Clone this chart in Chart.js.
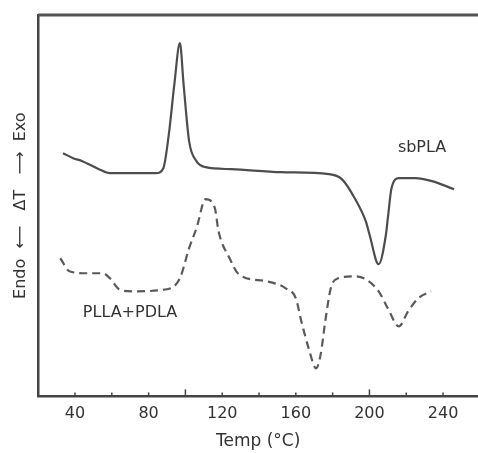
<!DOCTYPE html>
<html>
<head>
<meta charset="utf-8">
<script src="https://cdn.jsdelivr.net/npm/chart.js@4.4.0/dist/chart.umd.min.js"></script>
<style>
  html, body { margin: 0; padding: 0; background: #fff; }
  #wrap { width: 478px; height: 453px; }
</style>
</head>
<body>
<div id="wrap"><canvas id="dsc-chart"></canvas></div>
<script>
// DSC traces, heat flow in arbitrary units
var sbTemp = [33.5, 39, 44, 53, 59, 71, 84, 88, 91, 94, 97, 99, 102, 106, 111, 125, 152, 178, 185, 192, 198, 200, 205, 209, 210, 212, 216, 225, 234, 246];
var sbHeat = [24.3, 23.8, 23.5, 22.7, 22.3, 22.3, 22.3, 22.8, 26.2, 31.2, 35.3, 31.2, 25.5, 23.5, 22.9, 22.7, 22.4, 22.2, 21.7, 19.8, 17.5, 16.2, 13.2, 16.2, 17.8, 20.8, 21.8, 21.8, 21.5, 20.7];

var blendTemp = [32, 37, 46.5, 55, 59, 64, 71, 90, 97, 102, 106, 111, 116, 118, 124, 129, 144, 154.5, 160, 163, 167, 171, 173.5, 176, 179, 183, 192, 198, 205, 210, 216, 221, 226.5, 233.5];
var blendHeat = [13.8, 12.5, 12.3, 12.3, 11.8, 10.7, 10.5, 10.7, 11.8, 14.8, 16.8, 19.7, 18.8, 16.5, 13.8, 12.2, 11.5, 10.8, 9.8, 7.5, 4.8, 2.8, 4.2, 7.5, 10.8, 11.8, 12.0, 11.7, 10.5, 8.8, 7.0, 8.5, 9.8, 10.5];

var seriesNames = ["sbPLA", "PLLA+PDLA"];
var labelTicks = [40, 80, 120, 160, 200, 240];
var majorTicks = [100, 200];

function pairs(xs, ys) {
  return xs.map(function (x, i) { return { x: x, y: ys[i] }; });
}

// inward tick marks on the temperature axis + frame top + curve names
var decor = {
  id: 'decor',
  afterDraw: function (chart) {
    var ctx = chart.ctx, area = chart.chartArea, xs = chart.scales.x, ys = chart.scales.y;
    ctx.save();
    ctx.strokeStyle = '#444';
    ctx.lineWidth = 1.5;
    xs.ticks.forEach(function (t) {
      var px = xs.getPixelForValue(t.value);
      if (px <= area.left + 2 || px >= area.right - 2) return;
      var len = majorTicks.indexOf(t.value) >= 0 ? 7 : 4;
      ctx.beginPath();
      ctx.moveTo(px, area.bottom);
      ctx.lineTo(px, area.bottom - len);
      ctx.stroke();
    });
    ctx.strokeStyle = '#555';
    ctx.lineWidth = 3;
    ctx.beginPath();
    ctx.moveTo(area.left, area.top);
    ctx.lineTo(area.right, area.top);
    ctx.stroke();

    ctx.fillStyle = '#333';
    ctx.font = '16px "DejaVu Sans"';
    ctx.textAlign = 'center';
    ctx.textBaseline = 'middle';
    ctx.fillText(seriesNames[0], xs.getPixelForValue(228.6), ys.getPixelForValue(24.8));
    ctx.fillText(seriesNames[1], xs.getPixelForValue(69.9), ys.getPixelForValue(8.3));
    ctx.restore();
  }
};

new Chart(document.getElementById("dsc-chart"), {
  type: 'line',
  data: {
    datasets: [
      {
        label: seriesNames[0],
        data: pairs(sbTemp, sbHeat),
        borderColor: '#4d4d4d',
        borderWidth: 2.2,
        pointRadius: 0,
        cubicInterpolationMode: 'monotone'
      },
      {
        label: seriesNames[1],
        data: pairs(blendTemp, blendHeat),
        borderColor: '#5a5a5a',
        borderWidth: 2.2,
        borderDash: [8, 5],
        pointRadius: 0,
        cubicInterpolationMode: 'monotone'
      }
    ]
  },
  options: {
    responsive: true,
    maintainAspectRatio: false,
    animation: false,
    layout: { padding: { left: 11, top: 15, right: 0, bottom: 1 } },
    plugins: {
      legend: { display: false },
      tooltip: { enabled: false }
    },
    scales: {
      x: {
        type: 'linear',
        min: 20,
        max: 259,
        grid: { display: false },
        border: { display: true, color: '#444', width: 2.5 },
        ticks: {
          stepSize: 20,
          includeBounds: false,
          autoSkip: false,
          maxRotation: 0,
          padding: 0,
          color: '#333',
          font: { family: 'DejaVu Sans', size: 16 },
          callback: function (v) { return labelTicks.indexOf(v) >= 0 ? String(v) : ''; }
        },
        title: {
          display: true,
          text: 'Temp (°C)',
          color: '#333',
          font: { family: 'DejaVu Sans', size: 17 },
          padding: { top: 8, bottom: 0 }
        }
      },
      y: {
        min: 0,
        max: 38.1,
        grid: { display: false },
        border: { display: true, color: '#444', width: 2.5 },
        ticks: { display: false },
        title: {
          display: true,
          text: 'Endo  \u27F5   \u0394T   \u27F6  Exo',
          color: '#333',
          font: { family: 'DejaVu Sans', size: 16 },
          padding: { top: 0, bottom: 0 }
        }
      }
    }
  },
  plugins: [decor]
});
</script>
</body>
</html>
